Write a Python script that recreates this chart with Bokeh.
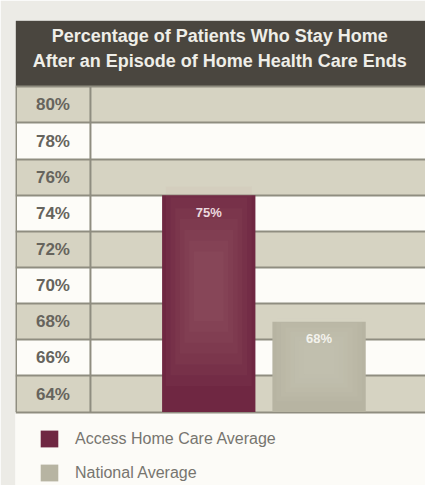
from bokeh.plotting import figure
from bokeh.models import Legend, LegendItem, Range1d
from bokeh.core.properties import value
from bokeh.embed import file_html
from bokeh.resources import INLINE

# ---- data ----
title_lines = ["Percentage of Patients Who Stay Home",
               "After an Episode of Home Health Care Ends"]
tick_values = [80, 78, 76, 74, 72, 70, 68, 66, 64]
tick_labels = ["80%", "78%", "76%", "74%", "72%", "70%", "68%", "66%", "64%"]
series_names = ["Access Home Care Average", "National Average"]
series_values = [75, 68]
value_labels = ["75%", "68%"]

# ---- styling / layout constants ----
FONT = value("Liberation Sans")
BASE, TOP = 63, 81            # table spans 63..81 (%)
X0, X1 = -0.752, 2.965         # x range (bars at 1, 2)
Y0, Y1 = 58.94, 84.667         # includes header above and legend below
DIV_X = -0.0725
BAR_W = 0.846
band_colors = ["#d6d3c2", "#fdfcf8"]
bar_colors = ["#6f2742", "#b7b4a2"]
glow_colors = ["#b8808f", "#e2decd"]
label_colors = ["#ead9df", "#f3f2ec"]

p = figure(width=425, height=485, x_range=Range1d(X0, X1), y_range=Range1d(Y0, Y1),
           output_backend="svg", toolbar_location=None,
           x_axis_location=None, y_axis_location=None,
           min_border_left=15, min_border_right=0, min_border_top=20, min_border_bottom=0)
p.grid.visible = False
p.outline_line_color = None
p.background_fill_color = "#fcfbf7"
p.border_fill_color = "#ecebe6"

# header
p.quad(left=X0, right=X1, bottom=TOP, top=Y1, fill_color="#4a463f", line_color=None)
p.text(x=[1.1, 1.1], y=[83.82, 82.42], text=title_lines,
       text_align="center", text_baseline="middle", text_font=FONT,
       text_font_style="bold", text_font_size="18px", text_color="#efeee8")

# row bands
p.hbar(y=tick_values, height=2, left=X0, right=X1,
       fill_color=[band_colors[i % 2] for i in range(len(tick_values))], line_color=None)
boundaries = [v - 1 for v in tick_values] + [tick_values[0] + 1]
p.hspan(y=boundaries, line_color="#8f8d80", line_width=2)
p.segment(x0=[DIV_X], y0=[BASE], x1=[DIV_X], y1=[TOP], line_color="#8f8d80", line_width=2)
p.segment(x0=[X0], y0=[BASE], x1=[X0], y1=[TOP], line_color="#8f8d80", line_width=3)

# tick labels
p.text(x=[(X0 + DIV_X) / 2] * len(tick_values), y=tick_values, text=tick_labels,
       text_align="center", text_baseline="middle", text_font=FONT,
       text_font_style="bold", text_font_size="17px", text_color="#66645d")

# bars
renderers = []
for i, (v, c) in enumerate(zip(series_values, bar_colors)):
    x = i + 1
    r = p.vbar(x=[x], top=[v], bottom=BASE, width=BAR_W, fill_color=c, line_color=None)
    renderers.append(r)
    h = v - BASE
    m = BASE + h * 0.58
    for f in (0.92, 0.82, 0.72, 0.62, 0.52, 0.42, 0.32):
        p.vbar(x=[x], top=[m + h * f / 2], bottom=[m - h * f / 2], width=BAR_W * f,
               fill_color=glow_colors[i], fill_alpha=0.06, line_color=None)
    p.text(x=[x], y=[v], text=[value_labels[i]], y_offset=17,
           text_align="center", text_baseline="middle", text_font=FONT,
           text_font_style="bold", text_font_size="13px", text_color=label_colors[i])

legend = Legend(items=[LegendItem(label=n, renderers=[r]) for n, r in zip(series_names, renderers)],
                location=(23, 2), orientation="vertical",
                glyph_width=22, glyph_height=21, label_height=21, label_standoff=15,
                spacing=13, padding=0, margin=0, border_line_color=None,
                background_fill_alpha=0, label_text_font="Liberation Sans",
                label_text_font_size="16px", label_text_color="#77756f")
p.add_layout(legend)

open("out.html", "w").write(file_html(p, INLINE))
